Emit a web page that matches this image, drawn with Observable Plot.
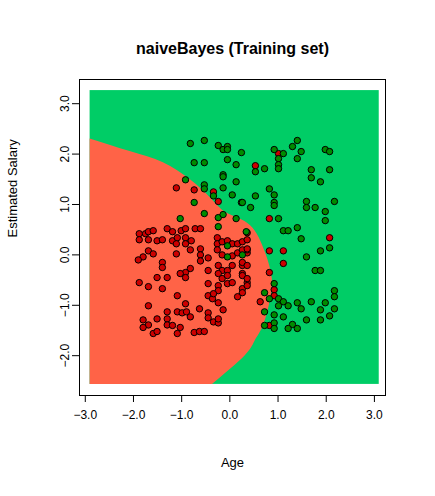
<!DOCTYPE html>
<html>
<head>
<meta charset="utf-8">
<script src="https://cdn.jsdelivr.net/npm/d3@7"></script>
<script src="https://cdn.jsdelivr.net/npm/@observablehq/plot@0.6"></script>
<style>body{margin:0;background:#fff}</style>
</head>
<body>
<div id="chart"></div>
<script>
// decision grid extent
const gridX = [-2.9, 3.1];
const gridY = [-2.57, 3.26];

// boundary of the red (0) region: [y, x]
const boundary = [
  [-2.57, -0.36], [-2.0, 0.32], [-1.7, 0.53], [-1.4, 0.70], [-0.91, 0.84],
  [-0.47, 0.88], [0.04, 0.74], [0.58, 0.43], [0.82, -0.05], [1.13, -0.40],
  [1.49, -0.82], [1.83, -1.38], [2.05, -2.07], [2.3, -2.9]
];

const green = [
  [-0.82,2.21],[-0.53,2.27],[-0.24,2.17],[-0.14,2.09],[-0.05,2.15],[-0.05,2.09],[0.24,2.03],[-0.74,1.83],[-0.53,1.83],[-0.05,1.89],
  [0.13,1.79],[-0.14,1.59],[-0.14,1.55],[0.13,1.45],[-0.92,1.49],[-0.53,1.39],[-0.53,1.31],[-0.34,1.17],[-0.14,1.33],[0.05,1.19],
  [0.24,1.04],[-0.74,1.04],[-0.53,0.82],[-0.24,0.74],[-0.14,0.80],[0.13,0.72],[-1.03,0.72],[-0.24,0.56],[0.34,0.46],
  [0.92,2.09],[1.11,2.01],[1.30,2.15],[1.40,2.27],[1.48,2.05],[1.40,1.91],[1.01,1.91],[1.01,1.79],[1.01,1.71],[0.53,1.65],
  [0.72,1.71],[1.98,2.09],[2.07,2.05],[1.69,1.69],[2.07,1.69],[1.69,1.53],[1.88,1.45],[0.82,1.31],[0.92,1.19],[0.53,1.17],
  [0.26,1.04],[0.92,1.04],[0.92,0.98],[0.43,0.94],[1.59,1.06],[1.59,0.94],[1.77,0.94],[2.17,1.06],[1.98,0.86],[1.98,0.68],
  [1.01,0.72],[1.11,0.48],[1.21,0.48],[1.40,0.54],[1.48,0.32],
  [1.88,0.08],[2.07,0.14],[1.59,-0.04],[1.77,-0.31],[1.88,-0.31],[0.92,-0.57],[0.72,-0.75],[0.82,-0.87],[1.01,-0.87],[1.11,-0.93],
  [1.01,-1.01],[1.21,-1.01],[1.40,-0.95],[1.48,-1.07],[1.69,-0.93],[1.98,-0.95],[2.17,-0.71],[2.17,-0.83],[1.88,-1.09],[2.17,-1.07],
  [2.07,-1.21],[0.72,-1.13],[0.92,-1.19],[1.11,-1.23],[1.59,-1.29],[1.88,-1.29],[0.92,-1.35],[0.72,-1.40],[1.30,-1.38],[1.21,-1.46],
  [1.40,-1.46],[0.92,-1.46],[0.26,0.00],[-0.05,-0.04],[-0.05,0.18]
];

const red = [
  [-1.11,1.33],[-0.74,1.29],[-0.34,1.25],[-0.24,1.06],[1.01,2.01],[0.53,1.77],[0.82,0.72],[2.07,0.34],
  [0.82,0.08],[1.11,0.08],[1.11,-0.17],[0.82,-0.35],[0.92,-0.69],[0.92,-0.81],[0.63,-0.93],[0.82,-1.40],
  [-1.88,0.42],[-1.75,0.42],[-1.69,0.46],[-1.59,0.48],[-1.88,0.30],[-1.69,0.30],[-1.51,0.28],[-1.40,0.30],[-1.30,0.52],[-1.19,0.46],
  [-1.19,0.28],[-1.09,0.34],[-1.01,0.48],[-0.92,0.52],[-0.92,0.34],[-0.72,0.52],[-0.61,0.52],[-0.80,0.28],[-0.92,0.22],[-1.11,0.22],
  [-1.69,0.08],[-1.59,0.02],[-1.80,-0.04],[-1.90,-0.10],[-1.11,0.02],[-0.82,0.10],[-0.61,0.12],[-0.61,0.00],[-0.61,-0.12],[-0.45,-0.06],
  [-1.40,-0.15],[-1.40,-0.25],[-0.82,-0.27],[-0.92,-0.35],[-1.03,-0.37],[-0.92,-0.45],[-1.51,-0.45],[-1.30,-0.45],[-0.45,-0.31],[-1.88,-0.55],
  [-1.69,-0.63],[-1.40,-0.67],[-0.45,-0.57],[-1.09,-0.81],[-0.45,-0.81],[-0.36,-0.87],[-1.69,-1.01],[-0.92,-0.97],[-1.30,-1.13],[-1.09,-1.13],
  [-0.99,-1.15],[-0.90,-1.13],[-0.82,-1.23],[-0.63,-1.07],[-0.45,-1.15],[-0.45,-1.25],[-1.80,-1.29],[-1.69,-1.39],[-1.80,-1.44],[-1.51,-1.27],
  [-1.30,-1.27],[-1.30,-1.39],[-1.19,-1.40],[-1.03,-1.44],[-1.09,-1.56],[-1.59,-1.56],[-1.51,-1.52],[-0.74,-1.54],[-0.63,-1.52],[-0.53,-1.52],
  [-0.34,-1.33],[-0.24,-1.35],[-0.24,-1.27],[-0.24,-0.95],[-0.14,-1.09],[0.16,-0.83],[-0.26,0.34],[-0.26,0.22],[-0.26,0.10],[-0.16,0.26],
  [-0.05,0.28],[0.05,0.22],[0.16,0.22],[-0.16,0.00],[0.05,-0.02],[0.16,0.04],[0.36,0.04],[0.36,0.10],[-0.24,-0.21],[-0.16,-0.31],
  [-0.24,-0.37],[-0.05,-0.31],[0.05,-0.21],[0.26,-0.21],[0.26,-0.37],[-0.16,-0.47],[-0.05,-0.41],[-0.05,-0.57],[0.05,-0.55],[0.26,-0.67],
  [0.36,-0.55],[-0.24,-0.61],[-0.24,-0.71],[-0.34,-0.77],[0.36,0.44],
  [0.26,0.26],[0.36,0.30],[0.26,0.10],[0.36,0.12],[0.26,-0.15],[0.36,-0.21],[0.26,-0.41],[0.36,-0.47],[0.36,-0.61],[0.26,-0.75]
];

const xTicks = [-3, -2, -1, 0, 1, 2, 3];
const yTicks = [-2, -1, 0, 1, 2, 3];

const chart = Plot.plot({
  width: 435,
  height: 496,
  marginLeft: 79,
  marginRight: 50,
  marginTop: 79,
  marginBottom: 101,
  style: {fontFamily: "Liberation Sans, Arial, sans-serif", fontSize: "12px", color: "black"},
  x: {domain: [-3.12, 3.23], ticks: xTicks, label: null},
  y: {domain: [-2.79, 3.48], ticks: yTicks, label: null},
  marks: [
    Plot.rect([0], {x1: gridX[0], x2: gridX[1], y1: gridY[0], y2: gridY[1], fill: "#00CD66"}),
    Plot.areaX(boundary, {y: d => d[0], x1: gridX[0], x2: d => d[1], fill: "#FF6347", curve: "natural"}),
    Plot.dot(red, {x: d => d[0], y: d => d[1], r: 3.2, fill: "#CD0000", stroke: "black", strokeWidth: 1}),
    Plot.dot(green, {x: d => d[0], y: d => d[1], r: 3.2, fill: "#008B00", stroke: "black", strokeWidth: 1}),
    Plot.frame({stroke: "black"}),
    Plot.axisX({ticks: xTicks, tickSize: 7, tickPadding: 8, fontSize: 12, inset: 0}),
    Plot.axisY({ticks: yTicks, tickSize: 7, tickPadding: 4, tickRotate: -90, fontSize: 12}),
    Plot.text(["naiveBayes (Training set)"], {frameAnchor: "top", dy: -37, fontWeight: "bold", fontSize: 16}),
    Plot.text(["Age"], {frameAnchor: "bottom", dy: 71, fontSize: 13}),
    Plot.text(["Estimated Salary"], {frameAnchor: "left", dx: -67, rotate: -90, fontSize: 13})
  ]
});

document.getElementById("chart").append(chart);
</script>
</body>
</html>
